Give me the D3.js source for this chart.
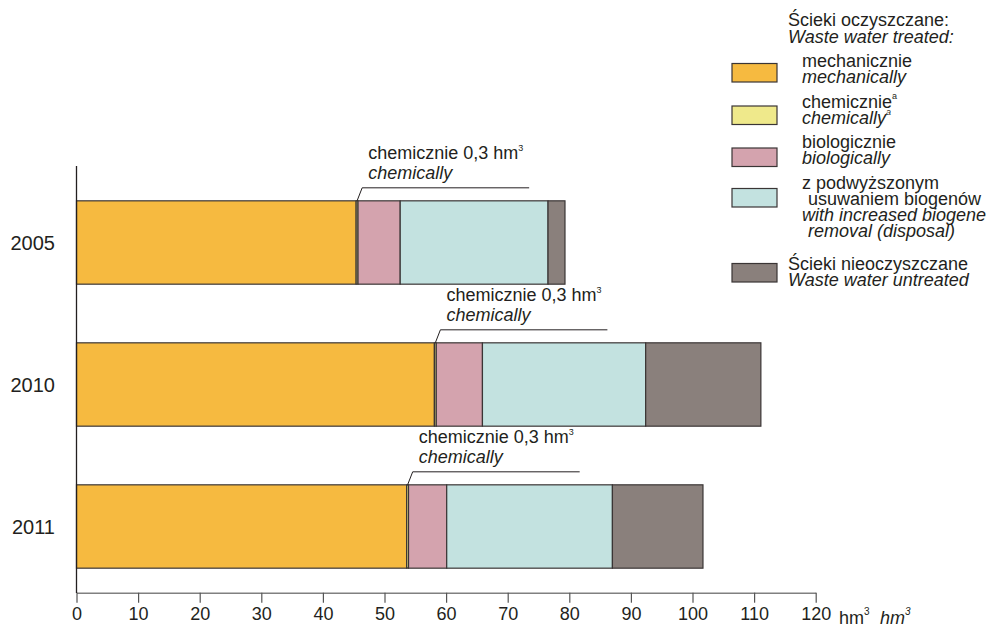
<!DOCTYPE html>
<html>
<head>
<meta charset="utf-8">
<script src="https://cdn.jsdelivr.net/npm/d3@7/dist/d3.min.js"></script>
<style>
  body { margin:0; background:#fff; }
  svg text { font-family:'Liberation Sans', Arial, sans-serif; fill:#231f20; }
</style>
</head>
<body>
<svg id="chart" width="995" height="630"></svg>
<script>
// data (hm3)
var years       = ['2005', '2010', '2011']
var mechanical  = [45.4, 58.1, 53.6]
var chemical    = [0.3, 0.3, 0.3]
var biological  = [6.85, 7.5, 6.2]
var biogene     = [24.0, 26.5, 26.9]
var untreated   = [2.75, 18.7, 14.7]
var xTicks      = [0, 10, 20, 30, 40, 50, 60, 70, 80, 90, 100, 110, 120]

var seriesKeys   = ['mech', 'chem', 'bio', 'biogene', 'untreated']
var seriesColors = ['#f6ba40', '#efe98b', '#d4a3ae', '#c3e2e0', '#8a807c']

var legendItems = [
    { lines:[{t:'mechanicznie', dx:0}, {t:'mechanically', dx:0, it:true}] },
    { lines:[{t:'chemicznie', dx:0, sup:'a'}, {t:'chemically', dx:0, it:true, sup:'a'}] },
    { lines:[{t:'biologicznie', dx:0}, {t:'biologically', dx:0, it:true}] },
    { lines:[{t:'z podwyższonym', dx:0}, {t:'usuwaniem biogenów', dx:6},
             {t:'with increased biogene', dx:0, it:true}, {t:'removal (disposal)', dx:6, it:true}] },
    { lines:[{t:'Ścieki nieoczyszczane', dx:-14}, {t:'Waste water untreated', dx:-14, it:true}] }
]

var rows = years.map((y, i)=> ({
    year:y, mech:mechanical[i], chem:chemical[i], bio:biological[i],
    biogene:biogene[i], untreated:untreated[i]
}))

var svg = d3.select('#chart')
var fs = 18

var x = d3.scaleLinear().domain([0, 120]).range([76.5, 815.7])
var y = d3.scaleBand().domain(years).range([171.5, 597.5])
    .paddingInner(0.413).paddingOuter(0.2065)

var stack = d3.stack().keys(seriesKeys)(rows)

// bars
svg.append('g').selectAll('g')
    .data(stack)
    .join('g')
    .attr('fill', (d, i)=> seriesColors[i])
    .selectAll('rect')
    .data(d=> d)
    .join('rect')
    .attr('x', d=> x(d[0]))
    .attr('y', d=> y(d.data.year))
    .attr('width', d=> x(d[1]) - x(d[0]))
    .attr('height', y.bandwidth())
    .attr('stroke', '#3a3535')
    .attr('stroke-width', 1.2)

// axes
var xAxis = svg.append('g')
    .attr('transform', 'translate(0,592.7)')
    .call(d3.axisBottom(x).tickValues(xTicks).tickSize(10).tickPadding(5).tickSizeOuter(0))
xAxis.select('.domain').attr('stroke', '#808080').attr('stroke-width', 1.5)
xAxis.selectAll('.tick line').attr('stroke', '#555').attr('stroke-width', 1.2)
xAxis.selectAll('.tick text')
    .style('font-size', fs + 'px')
    .style('font-family', "'Liberation Sans', Arial, sans-serif")
    .attr('fill', '#231f20')

svg.append('line')
    .attr('x1', x(0)).attr('x2', x(0))
    .attr('y1', 166).attr('y2', 593)
    .attr('stroke', '#231f20').attr('stroke-width', 1.3)

// year labels
svg.append('g').selectAll('text')
    .data(years)
    .join('text')
    .attr('x', 55)
    .attr('y', d=> y(d) + y.bandwidth() / 2 + 7)
    .attr('text-anchor', 'end')
    .style('font-size', '20px')
    .text(d=> d)

// axis unit
var unit = svg.append('text').attr('x', 839).attr('y', 624).style('font-size', fs + 'px')
unit.append('tspan').text('hm')
unit.append('tspan').attr('dy', -9).style('font-size', '10px').text('3')
var unit2 = svg.append('text').attr('x', 880).attr('y', 624).style('font-size', fs + 'px').style('font-style', 'italic')
unit2.append('tspan').text('hm')
unit2.append('tspan').attr('dy', -9).style('font-size', '10px').text('3')

// chemical annotations
rows.forEach(r=> {
    var top = y(r.year)
    var xm = x(r.mech)
    var xc = x(r.mech + r.chem / 2)
    svg.append('path')
        .attr('d', 'M' + xc + ',' + top + 'L' + (xm + 6) + ',' + (top - 13) + 'H' + (xm + 173))
        .attr('fill', 'none')
        .attr('stroke', '#231f20')
        .attr('stroke-width', 1)
    var t = svg.append('text').attr('x', xm + 12).attr('y', top - 42).style('font-size', fs + 'px')
    t.append('tspan').text('chemicznie 0,3 hm')
    t.append('tspan').attr('dy', -8).style('font-size', '9px').text('3')
    svg.append('text').attr('x', xm + 12).attr('y', top - 22)
        .style('font-size', fs + 'px').style('font-style', 'italic')
        .text('chemically')
})

// legend
svg.append('text').attr('x', 788).attr('y', 26).style('font-size', fs + 'px').text('Ścieki oczyszczane:')
svg.append('text').attr('x', 788).attr('y', 43).style('font-size', fs + 'px').style('font-style', 'italic')
    .text('Waste water treated:')

var swatchY  = [63.5, 106, 148, 188.5, 263.5]
var textTop  = [67, 108, 148, 189, 270]

var lg = svg.append('g').selectAll('g')
    .data(legendItems)
    .join('g')

lg.append('rect')
    .attr('x', 732).attr('y', (d, i)=> swatchY[i])
    .attr('width', 45).attr('height', 18.5)
    .attr('fill', (d, i)=> seriesColors[i])
    .attr('stroke', '#3a3535').attr('stroke-width', 1.2)

lg.each(function (d, i) {
    d.lines.forEach((l, j)=> {
        var t = d3.select(this).append('text')
            .attr('x', 802 + l.dx)
            .attr('y', textTop[i] + j * 16)
            .style('font-size', fs + 'px')
            .style('font-style', l.it ? 'italic' : 'normal')
        t.append('tspan').text(l.t)
        if (l.sup)
            t.append('tspan').attr('dy', -9).style('font-size', '9px').text(l.sup)
    })
})
</script>
</body>
</html>
